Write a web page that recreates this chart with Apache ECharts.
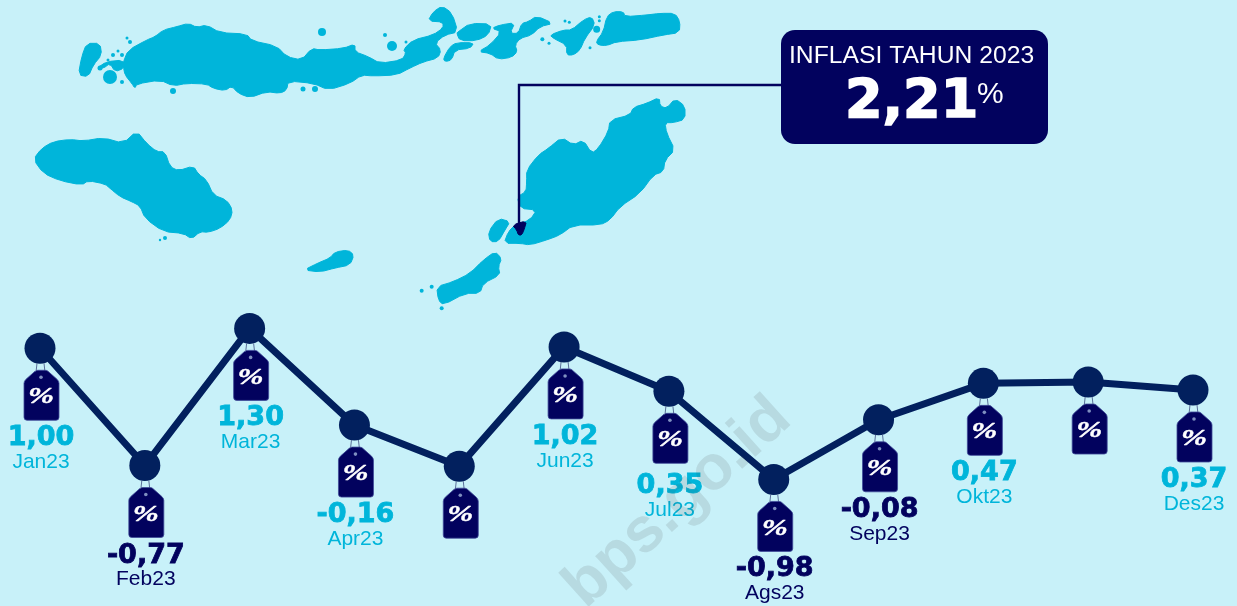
<!DOCTYPE html>
<html>
<head>
<meta charset="utf-8">
<style>html,body{margin:0;padding:0;background:#c8f1f9}#main{width:1237px;height:606px}</style>
<script src="https://cdn.jsdelivr.net/npm/echarts@6/dist/echarts.min.js"></script>
</head>
<body>
<div id="main"></div>
<script>
var categories = ['Jan23','Feb23','Mar23','Apr23','Mei23','Jun23','Jul23','Ags23','Sep23','Okt23','Nov23','Des23'];
var inflasi = [1.00,-0.77,1.30,-0.16,-0.78,1.02,0.35,-0.98,-0.08,0.47,0.49,0.37];
// the picture prints no label under Mei and Nov
var valueLabels = ['1,00','-0,77','1,30','-0,16','','1,02','0,35','-0,98','-0,08','0,47','','0,37'];
var monthLabels = ['Jan23','Feb23','Mar23','Apr23','','Jun23','Jul23','Ags23','Sep23','Okt23','','Des23'];
var navyLabels = ['Feb23','Ags23','Sep23'];

var BG = '#c8f1f9', SEA_BLUE = '#00b5da', NAVY = '#02025e', LINE_NAVY = '#02205e';

var westIsland = [[100,478],[125,445],[160,425],[210,418],[250,423],[310,413],[370,430],[410,393],[440,430],[470,455],[495,455],[510,500],[535,512],[580,498],[595,522],[620,540],[640,585],[680,600],[698,630],[690,660],[660,685],[625,697],[600,695],[575,717],[550,700],[490,695],[435,655],[420,618],[395,605],[360,590],[330,565],[315,552],[265,542],[245,555],[180,542],[130,520]];
var northIsland = [[370,185],[385,150],[440,120],[465,110],[490,90],[530,80],[565,70],[590,82],[620,75],[660,98],[740,102],[755,122],[830,138],[860,170],[905,180],[935,145],[960,150],[1030,145],[1065,132],[1065,155],[1105,170],[1140,190],[1205,180],[1218,160],[1210,148],[1239,120],[1299,105],[1329,84],[1329,66],[1284,63],[1299,36],[1326,18],[1356,39],[1374,96],[1335,105],[1305,129],[1323,150],[1314,174],[1269,186],[1230,204],[1190,225],[1120,228],[1085,225],[1050,250],[985,270],[940,250],[865,243],[860,270],[840,280],[800,275],[750,293],[715,280],[695,258],[675,272],[640,265],[620,252],[560,250],[520,258],[480,240],[410,252],[405,265],[395,250],[375,225],[370,200]];
var farWest = [[235,225],[245,170],[260,130],[300,130],[305,165],[280,195],[265,230]];
var farWestNeck = [[290,205],[320,185],[370,180],[372,205],[345,215],[330,190],[310,205]];
var eastA = [[175,95],[210,70],[275,72],[265,105],[230,122],[180,122],[170,100]];
var eastB = [[130,175],[150,140],[170,128],[222,128],[210,145],[165,150],[155,180],[135,185]];
var eastC = [[235,155],[270,135],[305,95],[275,85],[300,75],[345,68],[330,100],[355,100],[365,70],[385,65],[410,48],[460,70],[420,80],[395,105],[360,115],[345,135],[352,155],[335,172],[295,178],[270,160]];
var eastD = [[450,105],[490,90],[515,90],[550,60],[575,50],[585,75],[555,115],[540,150],[520,165],[500,165],[500,135],[460,115]];
var eastE = [[588,125],[610,95],[620,50],[640,35],[670,35],[675,50],[740,45],[780,40],[825,40],[840,65],[838,98],[790,105],[720,120],[650,125],[620,137],[595,135]];
var bigIsland = [[380,510],[415,465],[445,445],[485,412],[520,435],[550,420],[575,460],[595,445],[625,395],[630,360],[690,345],[700,322],[740,310],[778,292],[780,318],[800,325],[825,296],[855,318],[855,358],[820,368],[795,368],[800,400],[825,450],[795,480],[790,515],[760,525],[720,580],[660,620],[630,660],[600,675],[520,675],[480,705],[440,720],[390,735],[360,730],[312,730],[325,695],[345,675],[390,660],[410,630],[360,625],[352,590],[378,575],[380,545]];
var smallA = [[265,695],[295,655],[330,665],[315,690],[295,725],[270,725]];
var southIsland = [[110,860],[160,845],[210,820],[250,780],[285,755],[305,775],[295,800],[300,825],[250,850],[240,880],[195,880],[130,915],[115,900]];
var kupangBlob = [[337,675],[380,662],[372,690],[365,705],[355,705],[350,690]];
var midIsland = [[304,270],[318,263],[330,258],[335,252],[348,250],[354,255],[350,265],[335,268],[320,272]];
var dotsA = [[110,77,7],[322,32,4],[173,91,3],[303,89,2.5],[315,89,3],[392,46,5],[406,42,1.5],[385,35,2],[113,55,2],[118,51,1.5],[122,55,2],[108,60,1.5],[100,68,2.5],[122,82,2],[127,38,1.5],[130,42,2],[160,240,1.2],[165,238,2]];
var dotsB = [[590,88,3.5],[427,118,2],[447,130,1.5],[570,143,1.5],[495,63,1.5],[508,67,1.5],[598,50,1.5],[598,62,1.5],[125,925,2],[65,872,2],[95,860,2]];

function fromCrop1(p) { return [p[0] / 3, p[1] / 3]; }
function fromCrop2(p) { return [400 + p[0] / 3, p[1] / 3]; }
// corner cutting so the coast does not look like straight segments
function rounded(points) {
    var out = [];
    points.forEach(function (p, i) {
        var q = points[(i + 1) % points.length];
        out.push([p[0] * 0.75 + q[0] * 0.25, p[1] * 0.75 + q[1] * 0.25]);
        out.push([p[0] * 0.25 + q[0] * 0.75, p[1] * 0.25 + q[1] * 0.75]);
    });
    return out;
}
function land(points, color) {
    var c = color || SEA_BLUE;
    return { type: 'polygon', shape: { points: rounded(points) }, style: { fill: c, stroke: c, lineWidth: 1, lineJoin: 'round' } };
}
function dot(x, y, r) {
    return { type: 'circle', shape: { cx: x, cy: y, r: r }, style: { fill: SEA_BLUE } };
}

var mapShapes = [
    land(westIsland.map(fromCrop1)), land(northIsland.map(fromCrop1)), land(farWest.map(fromCrop1)), land(farWestNeck.map(fromCrop1)),
    land(eastA.map(fromCrop2)), land(eastB.map(fromCrop2)), land(eastC.map(fromCrop2)),
    land(eastD.map(fromCrop2)), land(eastE.map(fromCrop2)), land(bigIsland.map(fromCrop2)),
    land(smallA.map(fromCrop2)), land(southIsland.map(fromCrop2)), land(midIsland)
];
dotsA.forEach(function (d) { mapShapes.push(dot(d[0], d[1], d[2])); });
dotsB.forEach(function (d) { mapShapes.push(dot(400 + d[0] / 3, d[1] / 3, d[2])); });
mapShapes.push(land(kupangBlob.map(fromCrop2), NAVY));

var calloutShapes = [
    { type: 'polyline', shape: { points: [[781,85],[519,85],[519,226]] }, style: { stroke: NAVY, lineWidth: 2.4, fill: null } },
    { type: 'rect', shape: { x: 781, y: 30, width: 267, height: 114, r: 14 }, style: { fill: NAVY } },
    { type: 'text', x: 789, y: 56, style: { text: 'INFLASI TAHUN 2023', fill: '#fff', font: '24.7px "Liberation Sans"', verticalAlign: 'middle' } },
    { type: 'text', x: 845, y: 103, style: { text: '2,21', fill: '#fff', stroke: '#fff', lineWidth: 1.6, font: 'bold 54px "DejaVu Sans"', verticalAlign: 'middle' } },
    { type: 'text', x: 977, y: 95, style: { text: '%', fill: '#fff', font: '30px "Liberation Sans"', verticalAlign: 'middle' } }
];

var watermark = { type: 'text', x: 678, y: 503, rotation: 42 * Math.PI / 180, z: 100, silent: true,
    style: { text: 'bps.go.id', fill: 'rgba(70,70,70,0.13)', font: 'bold 63px "Liberation Sans"', align: 'center', verticalAlign: 'middle' } };

// price tag hanging under every point, with its label underneath
function renderTag(params, api) {
    var i = api.value(0);
    var pos = api.coord([i, api.value(1)]);
    var color = navyLabels.indexOf(categories[i]) >= 0 ? NAVY : SEA_BLUE;
    var nudge = categories[i] === 'Jul23' ? 5 : 0;
    var kids = [
        { type: 'line', shape: { x1: -3, y1: 15, x2: -4, y2: 24 }, style: { stroke: '#5a6f99', lineWidth: 1 } },
        { type: 'line', shape: { x1: 4, y1: 15, x2: 5, y2: 24 }, style: { stroke: '#5a6f99', lineWidth: 1 } },
        { type: 'path', shape: { pathData: 'M12 1Q12 0 14 0L21 0Q23 0 24 1L33 9Q35 11 35 13L35 47Q35 50 32 50L3 50Q0 50 0 47L0 13Q0 11 2 9L11 1Z', layout: 'cover', x: -16, y: 22, width: 35, height: 50 },
          style: { fill: NAVY, stroke: '#3f4a98', lineWidth: 0.8 } },
        { type: 'circle', shape: { cx: 1, cy: 29, r: 1.8 }, style: { fill: '#7f8fc0' } },
        { type: 'text', x: 1, y: 49, scaleX: 1.25, scaleY: 0.95, style: { text: '%', fill: '#fff', stroke: '#fff', lineWidth: 0.4, font: 'italic bold 25px "Liberation Serif"', align: 'center', verticalAlign: 'middle' } }
    ];
    if (valueLabels[i]) {
        kids.push({ type: 'text', x: 1, y: 90 + nudge, style: { text: valueLabels[i], fill: color, stroke: color, lineWidth: 0.8, font: 'bold 27px "DejaVu Sans"', align: 'center', verticalAlign: 'middle' } });
        kids.push({ type: 'text', x: 1, y: 114 + nudge, style: { text: monthLabels[i], fill: color, font: '21px "Liberation Sans"', align: 'center', verticalAlign: 'middle' } });
    }
    return { type: 'group', x: pos[0], y: pos[1], children: kids };
}

var myChart = echarts.init(document.getElementById('main'));
var option = {
    animation: false,
    backgroundColor: BG,
    grid: { left: 40, right: 44, top: 282, height: 265 },
    xAxis: { type: 'category', data: categories, boundaryGap: false, show: false },
    yAxis: { type: 'value', min: -2, max: 2, show: false },
    graphic: { elements: mapShapes.concat(calloutShapes, [watermark]) },
    series: [{
        type: 'line',
        data: inflasi,
        symbol: 'circle',
        symbolSize: 31,
        lineStyle: { color: LINE_NAVY, width: 7 },
        itemStyle: { color: LINE_NAVY, opacity: 1 },
        z: 2
    }, {
        type: 'custom',
        data: inflasi.map(function (v, i) { return [i, v]; }),
        renderItem: renderTag,
        encode: { x: 0, y: 1 },
        clip: false,
        z: 3
    }]
};
myChart.setOption(option);
</script>
</body>
</html>
